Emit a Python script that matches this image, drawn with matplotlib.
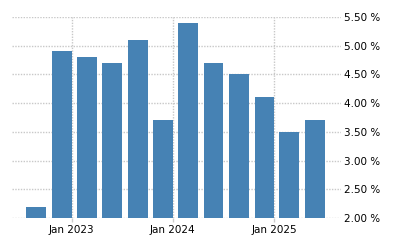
import matplotlib
matplotlib.use("Agg")
import matplotlib.pyplot as plt
import matplotlib.dates as mdates
import pandas as pd
import numpy as np

quarters = ["2022-09-30", "2022-12-31", "2023-03-31", "2023-06-30", "2023-09-30",
            "2023-12-31", "2024-03-31", "2024-06-30", "2024-09-30", "2024-12-31",
            "2025-03-31", "2025-06-30"]
values = [2.2, 4.9, 4.8, 4.7, 5.1, 3.7, 5.4, 4.7, 4.5, 4.1, 3.5, 3.7]
y_ticks = [2.0, 2.5, 3.0, 3.5, 4.0, 4.5, 5.0, 5.5]
x_ticks = ["2023-01-01", "2024-01-01", "2025-01-01"]
x_labels = ["Jan 2023", "Jan 2024", "Jan 2025"]

dates = pd.to_datetime(quarters)
xnum = mdates.date2num(dates)

fig = plt.figure(figsize=(4, 2.5), dpi=100)
ax = fig.add_axes([0.03, 0.127, 0.8225, 0.806])

ax.bar(xnum - 70, np.array(values) - 2.0, bottom=2.0, width=72, align="edge",
       color="#4682B4", zorder=3)

ax.set_ylim(2.0, 5.5)
ax.set_xlim(mdates.date2num(pd.Timestamp("2022-05-31")),
            mdates.date2num(pd.Timestamp("2025-08-30")))

ax.set_yticks(y_ticks)
ax.set_yticklabels([f"{v:.2f} %" for v in y_ticks])
ax.yaxis.tick_right()
ax.tick_params(axis="y", length=0, pad=2, labelsize=7.5, labelcolor="#000000")

xt = mdates.date2num(pd.to_datetime(x_ticks))
ax.set_xticks(xt)
ax.set_xticklabels(x_labels)
ax.tick_params(axis="x", length=3, width=1, color="#cccccc", pad=2,
               labelsize=7.5, labelcolor="#000000")

ax.grid(True, axis="both", linestyle=(0, (1, 1)), color="#c8c8c8", linewidth=1, zorder=0)
for s in ax.spines.values():
    s.set_visible(False)

fig.savefig("out.png", dpi=100)
